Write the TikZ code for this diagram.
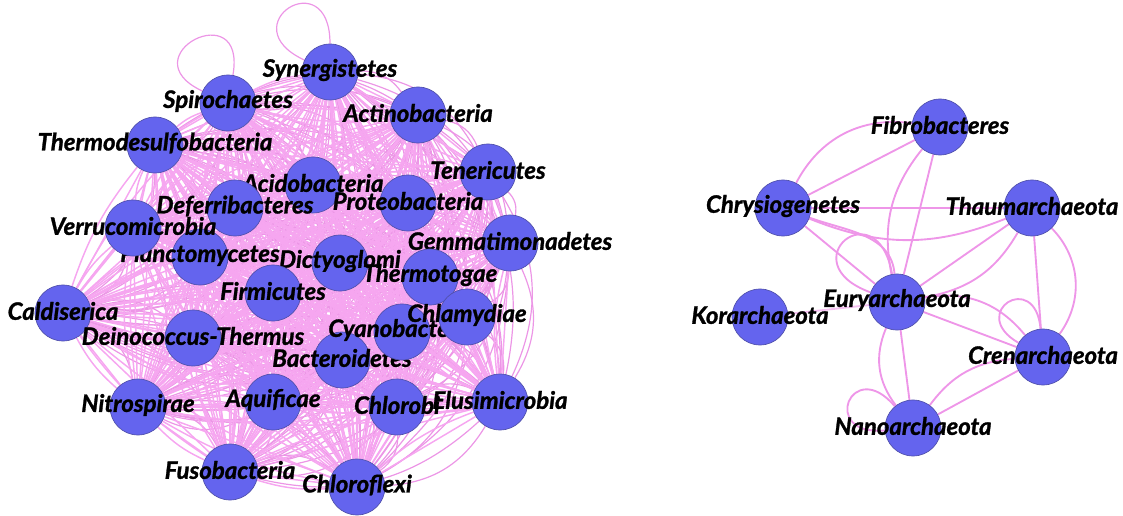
\documentclass[tikz,border=0pt]{standalone}
\usepackage{fontspec}
\setmainfont{Lato}[BoldItalicFeatures={FakeBold=1.2}]
\pgfdeclarelayer{bg}
\pgfsetlayers{bg,main}
\definecolor{edgepink}{RGB}{246,166,240}
\definecolor{edgeout}{RGB}{236,150,230}
\definecolor{edgeright}{RGB}{238,150,232}
\definecolor{nodeblue}{RGB}{100,100,238}
\definecolor{nodeline}{RGB}{80,80,170}
\tikzset{
  nd/.style={circle,fill=nodeblue,draw=nodeline,line width=0.5pt,minimum size=42pt,inner sep=0pt},
  lb/.style={font=\fontsize{18}{18}\selectfont\bfseries\itshape,text=black,inner sep=0pt,yshift=1.5pt},
  ed/.style={draw=edgepink,line width=1.1pt},
  edo/.style={draw=edgeout,line width=0.9pt},
  edr/.style={draw=edgeright,line width=1.4pt},
}
\newcommand{\phylnode}[3]{\node[nd] (#1) at (#2) {}; \node[lb] (#1-l) at (#1) {#3};}
\begin{document}
\begin{tikzpicture}[x=0.75pt,y=-0.75pt]
\useasboundingbox (0,0) rectangle (1123,516);
% left cluster nodes (draw order matters)
\phylnode{syn}{330,72}{Synergistetes}
\phylnode{spi}{228,103}{Spirochaetes}
\phylnode{tds}{155,145}{Thermodesulfobacteria}
\phylnode{act}{418,115}{Actinobacteria}
\phylnode{ten}{488,172}{Tenericutes}
\phylnode{aci}{313,185}{Acidobacteria}
\phylnode{def}{235,208}{Deferribacteres}
\phylnode{pro}{408,203}{Proteobacteria}
\phylnode{pla}{200,257}{Planctomycetes}
\phylnode{ver}{133,228}{Verrucomicrobia}
\phylnode{gem}{510,243}{Gemmatimonadetes}
\phylnode{dic}{340,263}{Dictyoglomi}
\phylnode{fir}{273,293}{Firmicutes}
\phylnode{the}{430,277}{Thermotogae}
\phylnode{bac}{342,360}{Bacteroidetes}
\phylnode{cya}{402,332}{Cyanobacteria}
\phylnode{chl}{467,317}{Chlamydiae}
\phylnode{cal}{63,313}{Caldiserica}
\phylnode{dei}{193,338}{Deinococcus-Thermus}
\phylnode{aqu}{273,402}{Aquificae}
\phylnode{nit}{138,407}{Nitrospirae}
\phylnode{cho}{397,407}{Chlorobi}
\phylnode{elu}{500,402}{Elusimicrobia}
\phylnode{fus}{230,472}{Fusobacteria}
\phylnode{chf}{357,487}{Chloroflexi}
% right cluster nodes
\phylnode{fib}{940,127}{Fibrobacteres}
\phylnode{chr}{783,208}{Chrysiogenetes}
\phylnode{tha}{1032,208}{Thaumarchaeota}
\phylnode{eur}{897,302}{Euryarchaeota}
\phylnode{kor}{760,317}{Korarchaeota}
\phylnode{cre}{1043,357}{Crenarchaeota}
\phylnode{nan}{913,428}{Nanoarchaeota}
\begin{pgfonlayer}{bg}
% dense left cluster: every pair joined curved and straight
\foreach \a [count=\i] in {syn,spi,tds,act,ten,aci,def,pro,pla,ver,gem,dic,fir,the,bac,cya,chl,cal,dei,aqu,nit,cho,elu,fus,chf}{
  \foreach \b [count=\j] in {syn,spi,tds,act,ten,aci,def,pro,pla,ver,gem,dic,fir,the,bac,cya,chl,cal,dei,aqu,nit,cho,elu,fus,chf}{
    \ifnum\j>\i
      \draw[edo] (\a) to[bend left=28] (\b);
    \fi
  }
}
\foreach \a [count=\i] in {syn,spi,tds,act,ten,aci,def,pro,pla,ver,gem,dic,fir,the,bac,cya,chl,cal,dei,aqu,nit,cho,elu,fus,chf}{
  \foreach \b [count=\j] in {syn,spi,tds,act,ten,aci,def,pro,pla,ver,gem,dic,fir,the,bac,cya,chl,cal,dei,aqu,nit,cho,elu,fus,chf}{
    \ifnum\j>\i
      \draw[ed] (\a) -- (\b);
      \draw[ed] (\a) to[bend right=10] (\b);
    \fi
  }
}
% self loops
\draw[edo] (spi) to[out=155,in=80,min distance=62pt] (spi);
\draw[edo] (syn) to[out=155,in=90,min distance=62pt] (syn);
% right cluster
\draw[edr] (chr) -- (fib);
\draw[edr] (chr) to[bend left=35] (fib);
\draw[edr] (chr) -- (tha);
\draw[edr] (chr) to[bend right=22] (tha);
\draw[edr] (chr) -- (eur);
\draw[edr] (chr) to[out=-20,in=95] (eur);
\draw[edr] (fib) -- (eur);
\draw[edr] (fib) to[bend right=25] (eur);
\draw[edr] (tha) -- (eur);
\draw[edr] (tha) to[bend left=25] (eur);
\draw[edr] (tha) -- (cre);
\draw[edr] (tha) to[bend left=40] (cre);
\draw[edr] (eur) -- (cre);
\draw[edr] (eur) to[bend left=30] (cre);
\draw[edr] (eur) -- (nan);
\draw[edr] (eur) to[bend right=30] (nan);
\draw[edr] (cre) -- (nan);
\draw[edr] (cre) to[bend right=25] (nan);
\draw[edr,draw=edgeright!60] (kor) -- (eur);
\draw[edr] (eur) to[out=160,in=100,min distance=65pt] (eur);
\draw[edr] (cre) to[out=150,in=95,min distance=45pt] (cre);
\draw[edr] (nan) to[out=185,in=130,min distance=50pt] (nan);
\end{pgfonlayer}
\end{tikzpicture}
\end{document}
